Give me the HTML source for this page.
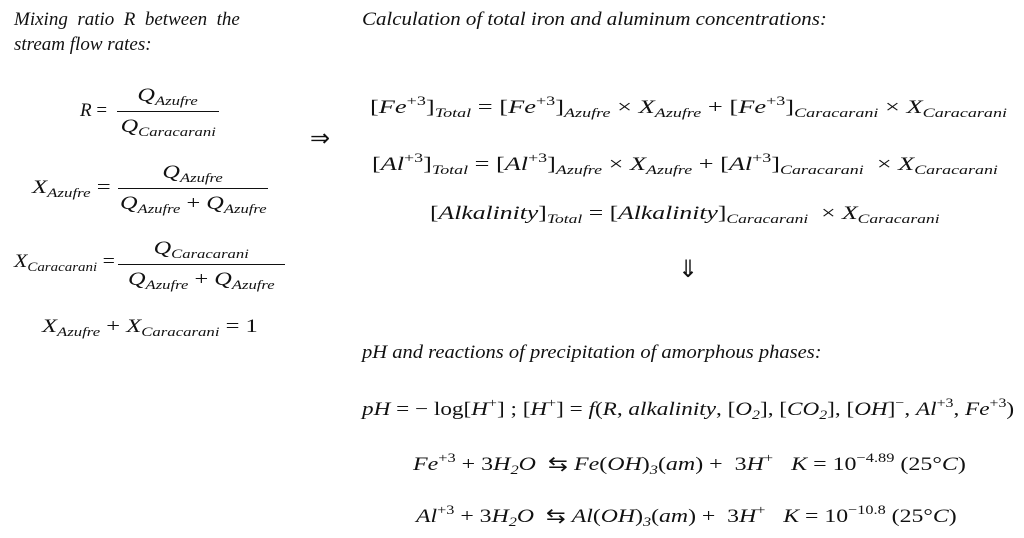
<!DOCTYPE html>
<html><head><meta charset="utf-8"><style>
html,body{margin:0;padding:0;background:#fff;}
body{width:1024px;height:538px;position:relative;overflow:hidden;font-family:"Liberation Serif",serif;color:#111;font-size:19px;}
.a{position:absolute;white-space:nowrap;line-height:1;transform-origin:0 50%;}
i{font-style:italic;}
sub{font-size:13px;vertical-align:-4px;font-style:italic;}
sup{font-size:13px;vertical-align:8px;}
.it{font-style:italic;}
.fr{position:absolute;text-align:center;}
.fr .n{display:block;padding-bottom:4px;}
.fr .d{display:block;border-top:1px solid #111;padding-top:5px;}
.s{display:inline-block;transform:scaleX(1.28);transform-origin:50% 50%;}
</style></head><body>
<div class="a it" style="left:14px;top:10px;">Mixing&nbsp; ratio&nbsp; R&nbsp; between&nbsp; the</div>
<div class="a it" style="left:14px;top:35px;">stream flow rates:</div>

<div class="a" style="left:80px;top:101px;"><i>R</i> =</div>
<div class="fr a" style="left:117px;top:86px;width:102px;"><span class="n"><span class="s"><i>Q</i><sub>Azufre</sub></span></span><span class="d"><span class="s"><i>Q</i><sub>Caracarani</sub></span></span></div>

<div class="a" style="left:32px;top:178px;transform:scaleX(1.3);"><i>X</i><sub>Azufre</sub> =</div>
<div class="fr a" style="left:118px;top:163px;width:150px;"><span class="n"><span class="s"><i>Q</i><sub>Azufre</sub></span></span><span class="d"><span class="s"><i>Q</i><sub>Azufre</sub> + <i>Q</i><sub>Azufre</sub></span></span></div>

<div class="a" style="left:14px;top:252px;transform:scaleX(1.15);"><i>X</i><sub>Caracarani</sub> =</div>
<div class="fr a" style="left:118px;top:239px;width:167px;"><span class="n"><span class="s"><i>Q</i><sub>Caracarani</sub></span></span><span class="d"><span class="s"><i>Q</i><sub>Azufre</sub> + <i>Q</i><sub>Azufre</sub></span></span></div>

<div class="a" style="left:42px;top:317px;transform:scaleX(1.29);"><i>X</i><sub>Azufre</sub> + <i>X</i><sub>Caracarani</sub> = 1</div>

<div class="a" style="left:310px;top:127px;font-size:24px;">⇒</div>

<div class="a it" style="left:362px;top:10px;transform:scaleX(1.1);">Calculation of total iron and aluminum concentrations:</div>

<div class="a" style="left:370px;top:94px;transform:scaleX(1.39);">[<i>Fe</i><sup>+3</sup>]<sub>Total</sub> = [<i>Fe</i><sup>+3</sup>]<sub>Azufre</sub> × <i>X</i><sub>Azufre</sub> + [<i>Fe</i><sup>+3</sup>]<sub>Caracarani</sub> × <i>X</i><sub>Caracarani</sub></div>
<div class="a" style="left:372px;top:151px;transform:scaleX(1.38);">[<i>Al</i><sup>+3</sup>]<sub>Total</sub> = [<i>Al</i><sup>+3</sup>]<sub>Azufre</sub> × <i>X</i><sub>Azufre</sub> + [<i>Al</i><sup>+3</sup>]<sub>Caracarani</sub> &nbsp;× <i>X</i><sub>Caracarani</sub></div>
<div class="a" style="left:430px;top:204px;transform:scaleX(1.35);">[<i>Alkalinity</i>]<sub>Total</sub> = [<i>Alkalinity</i>]<sub>Caracarani</sub> &nbsp;× <i>X</i><sub>Caracarani</sub></div>

<div class="a" style="left:678px;top:258px;font-size:24px;">⇓</div>

<div class="a it" style="left:362px;top:343px;transform:scaleX(1.08);">pH and reactions of precipitation of amorphous phases:</div>

<div class="a" style="left:362px;top:396px;transform:scaleX(1.22);"><i>pH</i> = − log[<i>H</i><sup>+</sup>] ; [<i>H</i><sup>+</sup>] = <i>f</i>(<i>R</i>, <i>alkalinity</i>, [<i>O</i><sub>2</sub>], [<i>CO</i><sub>2</sub>], [<i>OH</i>]<sup>−</sup>, <i>Al</i><sup>+3</sup>, <i>Fe</i><sup>+3</sup>)</div>
<div class="a" style="left:413px;top:451px;transform:scaleX(1.26);"><i>Fe</i><sup>+3</sup> + 3<i>H</i><sub>2</sub><i>O</i> &nbsp;⇆ <i>Fe</i>(<i>OH</i>)<sub>3</sub>(<i>am</i>) + &nbsp;3<i>H</i><sup>+</sup> &nbsp; <i>K</i> = 10<sup>−4.89</sup> (25°<i>C</i>)</div>
<div class="a" style="left:416px;top:503px;transform:scaleX(1.25);"><i>Al</i><sup>+3</sup> + 3<i>H</i><sub>2</sub><i>O</i> &nbsp;⇆ <i>Al</i>(<i>OH</i>)<sub>3</sub>(<i>am</i>) + &nbsp;3<i>H</i><sup>+</sup> &nbsp; <i>K</i> = 10<sup>−10.8</sup> (25°<i>C</i>)</div>
</body></html>
